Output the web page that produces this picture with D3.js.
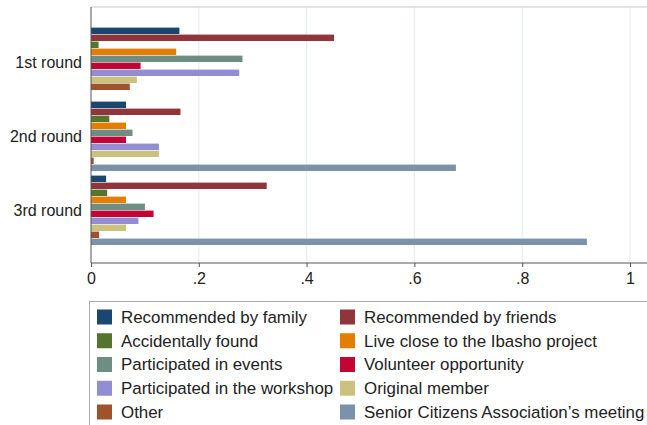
<!DOCTYPE html>
<html>
<head>
<meta charset="utf-8">
<script src="https://cdn.jsdelivr.net/npm/d3@7/dist/d3.min.js"></script>
<style>
  html, body { margin: 0; padding: 0; background: #fff; }
  svg { display: block; font-family: "Liberation Sans", Arial, Helvetica, sans-serif; }
</style>
</head>
<body>
<svg id="chart" width="647" height="425"></svg>
<script>
const rounds = ["1st round", "2nd round", "3rd round"];
const seriesNames = [
  "Recommended by family",
  "Recommended by friends",
  "Accidentally found",
  "Live close to the Ibasho project",
  "Participated in events",
  "Volunteer opportunity",
  "Participated in the workshop",
  "Original member",
  "Other",
  "Senior Citizens Association\u2019s meeting"
];
const seriesColors = ["#1a476f", "#90353b", "#55752f", "#e37e00", "#6e8e84",
                      "#c10534", "#938dd2", "#cac27e", "#a0522d", "#7b92a8"];
const round1 = [0.164, 0.451, 0.014, 0.158, 0.281, 0.092, 0.275, 0.085, 0.072, 0.0];
const round2 = [0.065, 0.166, 0.034, 0.065, 0.077, 0.065, 0.126, 0.126, 0.005, 0.677];
const round3 = [0.028, 0.326, 0.030, 0.065, 0.100, 0.116, 0.088, 0.065, 0.015, 0.920];
const xTicks = [0, 0.2, 0.4, 0.6, 0.8, 1];
const xTickLabels = ["0", ".2", ".4", ".6", ".8", "1"];

const values = [round1, round2, round3];

const svg = d3.select("#chart");
const plotLeft = 91, plotRight = 647, plotTop = 7, plotBottom = 263;

const x = d3.scaleLinear().domain([0, 1]).range([91, 630]);
const pi = 4 / 74;
const y0 = d3.scaleBand().domain(rounds).range([25.3, 247.3]).paddingInner(pi).paddingOuter(pi / 2);
const y1 = d3.scaleBand().domain(d3.range(seriesNames.length)).range([0, y0.bandwidth()]).padding(0);

// gridlines
svg.append("g").selectAll("line").data(xTicks.slice(1)).join("line")
  .attr("x1", d => x(d)).attr("x2", d => x(d))
  .attr("y1", plotTop).attr("y2", plotBottom)
  .attr("stroke", "#e6eff0").attr("stroke-width", 1.2);

// top border
svg.append("line").attr("x1", plotLeft).attr("x2", plotRight)
  .attr("y1", plotTop).attr("y2", plotTop)
  .attr("stroke", "#c8c8c8").attr("stroke-width", 1);

// bars
const groups = svg.append("g").selectAll("g").data(rounds).join("g")
  .attr("transform", d => `translate(0,${y0(d)})`);
groups.selectAll("rect").data((d, i) => values[i].map((v, j) => ({v, j}))).join("rect")
  .attr("x", x(0))
  .attr("y", d => y1(d.j) + 0.3)
  .attr("height", y1.bandwidth() - 0.6)
  .attr("width", d => x(d.v) - x(0))
  .attr("fill", d => seriesColors[d.j]);

// category labels
svg.append("g").selectAll("text").data(rounds).join("text")
  .attr("x", 82).attr("y", d => y0(d) + y0.bandwidth() / 2)
  .attr("dy", "0.35em").attr("text-anchor", "end")
  .attr("font-size", 16).attr("fill", "#222").text(d => d);

// x axis
const xAxis = d3.axisBottom(x).tickValues(xTicks).tickFormat((d, i) => xTickLabels[i]).tickSize(4).tickPadding(6);
const gx = svg.append("g").attr("transform", `translate(0,${plotBottom})`).call(xAxis);
gx.select(".domain").remove();
gx.selectAll(".tick line").attr("stroke", "#555");
gx.selectAll(".tick text").attr("font-size", 16).attr("fill", "#222")
  .attr("font-family", "'Liberation Sans', Arial, sans-serif");
svg.append("line").attr("x1", plotLeft).attr("x2", plotRight)
  .attr("y1", plotBottom).attr("y2", plotBottom).attr("stroke", "#555").attr("stroke-width", 1);

// y axis line
svg.append("line").attr("x1", plotLeft).attr("x2", plotLeft)
  .attr("y1", plotTop).attr("y2", plotBottom).attr("stroke", "#555").attr("stroke-width", 1);

// legend
const legend = svg.append("g");
legend.append("rect").attr("x", 89.5).attr("y", 301.5).attr("width", 600).attr("height", 200)
  .attr("fill", "#fff").attr("stroke", "#aaa").attr("stroke-width", 1);
const colX = [97, 340];
const rowY = d3.scaleLinear().domain([0, 4]).range([317, 412]);
const items = legend.selectAll("g.item").data(seriesNames).join("g").attr("class", "item")
  .attr("transform", (d, i) => `translate(${colX[i % 2]},${rowY(Math.floor(i / 2))})`);
items.append("rect").attr("x", 0).attr("y", -7.5).attr("width", 15).attr("height", 15)
  .attr("fill", (d, i) => seriesColors[i]);
items.append("text").attr("x", 24).attr("dy", "0.35em")
  .attr("font-size", 16.9).attr("fill", "#222").text(d => d);
</script>
</body>
</html>
